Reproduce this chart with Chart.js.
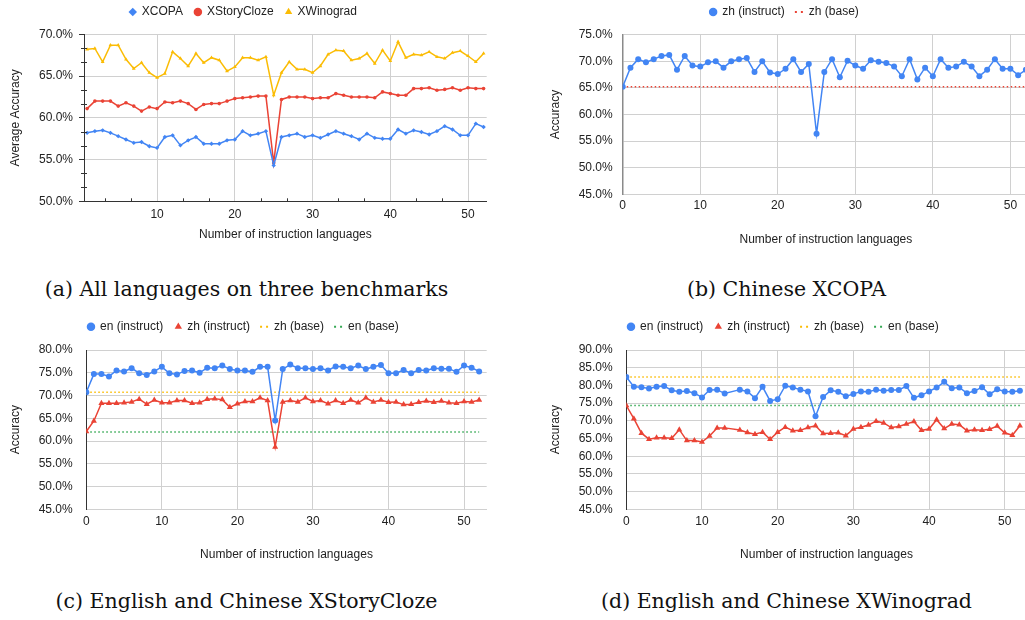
<!DOCTYPE html>
<html>
<head>
<meta charset="utf-8">
<script src="https://cdn.jsdelivr.net/npm/chart.js@4.4.1/dist/chart.umd.min.js"></script>
<style>
  html, body { margin: 0; padding: 0; background: #fff; }
  body { width: 1025px; height: 620px; position: relative; overflow: hidden; }
  canvas { position: absolute; }
  .cap {
    position: absolute; width: 493px; text-align: center;
    font-family: "DejaVu Serif", serif; font-size: 20.5px; line-height: 24px; color: #111;
  }
</style>
</head>
<body>
<canvas id="chartA" width="493" height="255" style="left:0;top:0"></canvas>
<canvas id="chartB" width="493" height="255" style="left:540px;top:0"></canvas>
<canvas id="chartC" width="493" height="255" style="left:0;top:310px"></canvas>
<canvas id="chartD" width="493" height="255" style="left:540px;top:310px"></canvas>
<div class="cap" style="left:0;top:277px">(a) All languages on three benchmarks</div>
<div class="cap" style="left:540px;top:277px">(b) Chinese XCOPA</div>
<div class="cap" style="left:0;top:589px">(c) English and Chinese XStoryCloze</div>
<div class="cap" style="left:540px;top:589px">(d) English and Chinese XWinograd</div>

<script>
// (a) x = 1..52 instruction languages
const langsA = Array.from({ length: 52 }, (_, i) => i + 1);
const xcopa = [58.2,58.4,58.5,58.2,57.8,57.4,57.0,57.1,56.6,56.4, 57.7,57.9,56.7,57.3,57.7,56.9,56.9,56.9,57.3,57.4,
  58.4,57.9,58.1,58.4,54.3,57.7,57.9,58.1,57.7,57.9, 57.6,58.0,58.4,58.1,57.8,57.4,58.1,57.6,57.5,57.5,
  58.6,58.1,58.5,58.3,58.0,58.4,59.0,58.6,57.9,57.9, 59.3,58.9];
const xstorycloze = [61.1,62.0,62.0,62.0,61.4,61.8,61.4,60.8,61.3,61.1, 61.9,61.8,62.0,61.7,61.0,61.6,61.7,61.7,62.0,62.3,
  62.4,62.5,62.6,62.6,54.6,62.2,62.5,62.5,62.5,62.3, 62.4,62.4,62.9,62.7,62.5,62.5,62.5,62.4,63.1,62.9,
  62.7,62.7,63.5,63.5,63.6,63.3,63.4,63.6,63.3,63.6, 63.5,63.5];
const xwinograd = [68.2,68.3,66.7,68.7,68.7,67.0,65.9,66.6,65.4,64.8, 65.3,67.9,67.1,66.2,67.7,66.6,67.2,66.9,65.6,66.1,
  67.2,67.2,66.9,67.3,62.7,65.4,66.7,65.8,65.8,65.4, 66.2,67.6,68.1,68.0,66.9,67.1,67.7,66.5,68.1,66.8,
  69.1,67.2,67.6,67.5,67.9,67.3,67.1,67.8,68.0,67.4, 66.7,67.7];

// (b)-(d) x = 0..52
const langs = Array.from({ length: 53 }, (_, i) => i);
const bZhInstruct = [65.2,68.8,70.4,69.8,70.4,71.0,71.2,68.4,71.0,69.2, 69.0,69.8,70.0,68.8,70.0,70.4,70.6,68.0,70.0,67.9,
  67.6,68.6,70.4,68.0,69.5,56.4,68.0,70.4,67.0,70.1, 69.2,68.6,70.2,69.9,69.7,69.0,67.2,70.4,66.6,68.8,
  67.2,70.4,68.8,69.0,69.9,69.0,67.2,68.4,70.4,68.6, 68.6,67.4,68.4];
const bZhBase = 65.2;

const cEnInstruct = [70.7,74.7,74.7,74.2,75.5,75.3,76.0,74.9,74.5,75.3, 76.3,74.9,74.6,75.4,75.5,75.0,76.1,76.0,76.6,75.8,
  75.5,75.5,75.2,76.3,76.3,64.5,75.8,76.8,76.0,76.0, 75.8,76.0,75.5,76.4,76.3,76.0,76.6,75.8,76.3,76.7,
  74.9,74.9,75.6,74.9,75.6,75.5,76.0,75.9,75.9,75.2, 76.6,76.1,75.3];
const cZhInstruct = [62.1,64.4,68.3,68.3,68.3,68.4,68.6,69.2,68.1,69.0, 68.4,68.4,68.9,68.9,68.3,68.4,69.2,69.3,69.1,67.4,
  68.2,68.7,68.7,69.5,68.9,58.7,68.6,68.9,68.6,69.5, 68.7,68.9,68.2,68.9,68.3,69.0,68.4,69.5,68.6,69.0,
  68.5,68.6,68.0,68.1,68.5,68.8,68.5,68.8,68.4,68.3, 68.7,68.6,69.0];
const cZhBase = 70.7;
const cEnBase = 62.0;

const dEnInstruct = [82.4,79.6,79.5,79.1,79.6,79.8,78.6,78.2,78.4,77.8, 76.6,78.7,78.8,77.7,null,78.8,78.3,76.4,79.6,75.6,
  76.1,79.9,79.4,78.8,78.3,71.3,76.7,78.6,78.2,76.9, 77.6,78.3,78.2,78.8,78.5,78.7,78.7,79.8,76.5,77.2,
  78.3,79.4,81.0,79.2,79.4,77.8,78.4,79.5,77.5,78.9, 78.3,78.2,78.5];
const dZhInstruct = [74.3,70.6,66.5,64.8,65.2,65.2,65.1,67.5,64.4,64.4, 64.0,65.7,68.0,68.0,null,67.4,66.7,66.2,66.8,64.8,
  66.8,68.2,67.2,67.3,68.1,68.6,66.4,66.5,66.6,65.8, 67.7,68.2,68.8,69.9,69.4,68.1,68.4,69.1,69.8,67.3,
  67.7,70.3,67.8,69.1,68.9,67.2,67.5,67.3,67.6,68.5, 66.6,65.9,68.6];
const dZhBase = 82.4;
const dEnBase = 74.3;

const xTicksA = [10, 20, 30, 40, 50];
const xTicks = [0, 10, 20, 30, 40, 50];

const BLUE = "#4285f4", RED = "#ea4335", YELLOW = "#fbbc04", GREEN = "#34a853";

Chart.defaults.font.family = "'Liberation Sans', Arial, sans-serif";
Chart.defaults.font.size = 12;
Chart.defaults.color = "#222";
Chart.defaults.animation = false;

function pts(xs, ys) {
  return xs.map((x, i) => ({ x, y: ys[i] }));
}

// two-dot marker for the dotted baseline legend entries
function dotsMarker(color) {
  const c = document.createElement("canvas");
  c.width = 12; c.height = 4;
  const g = c.getContext("2d");
  g.fillStyle = color;
  g.fillRect(1, 1, 2, 2);
  g.fillRect(7, 1, 2, 2);
  return c;
}

// extra space between legend and plot
function legendGap(gap) {
  return {
    id: "legendGap",
    beforeInit(chart) {
      const fit = chart.legend.fit;
      chart.legend.fit = function () {
        fit.bind(this)();
        this.height += gap;
      };
    }
  };
}

// small minor ticks on chart (a) axes
const minorTicks = {
  id: "minorTicks",
  afterDraw(chart) {
    const { ctx, chartArea, scales: { x, y } } = chart;
    ctx.save();
    ctx.strokeStyle = "#333";
    ctx.lineWidth = 1;
    ctx.beginPath();
    for (let k = 1; k * 5 / 3 < 20; k++) {
      if (k % 3 === 0) continue;
      const py = Math.round(y.getPixelForValue(50 + k * 5 / 3)) + 0.5;
      ctx.moveTo(chartArea.left - 3, py);
      ctx.lineTo(chartArea.left + 3, py);
    }
    for (let k = 1; k * 10 / 3 < 52.4; k++) {
      if (k % 3 === 0) continue;
      const px = Math.round(x.getPixelForValue(k * 10 / 3)) + 0.5;
      ctx.moveTo(px, chartArea.bottom);
      ctx.lineTo(px, chartArea.bottom - 3);
    }
    ctx.stroke();
    ctx.restore();
  }
};

function series(label, xs, ys, color, style, radius, width) {
  return {
    label, data: pts(xs, ys),
    borderColor: color, backgroundColor: color,
    borderWidth: width || 1.5,
    pointStyle: style, pointRadius: radius, pointHoverRadius: radius,
    pointBorderWidth: 0,
    tension: 0, spanGaps: true
  };
}

function baseline(label, value, color) {
  return {
    label, data: [{ x: 0, y: value }, { x: 52, y: value }],
    borderColor: color, backgroundColor: color,
    borderWidth: 1.5, borderDash: [1.5, 2.5],
    pointRadius: 0, pointStyle: dotsMarker(color)
  };
}

function pctTick(v) { return v.toFixed(1) + "%"; }

function makeOptions(cfg) {
  return {
    responsive: false,
    layout: { padding: { top: cfg.padTop, right: cfg.padRight, left: 0, bottom: 0 } },
    plugins: {
      legend: {
        position: "top",
        labels: { usePointStyle: true, boxWidth: 6, boxHeight: 6, padding: 12, color: "#222" }
      },
      tooltip: { enabled: false }
    },
    scales: {
      x: {
        type: "linear", min: cfg.xMin, max: cfg.xMax,
        afterBuildTicks: s => { s.ticks = cfg.xTicks.map(value => ({ value })); },
        afterFit: s => { s.height = cfg.xHeight; },
        grid: { color: "#d0d0d0", drawTicks: false },
        border: { color: cfg.xBorder, width: 1 },
        ticks: { padding: cfg.xTickPad, color: "#222" },
        title: {
          display: true, text: "Number of instruction languages", color: "#222",
          padding: { top: 0, bottom: cfg.xTitlePad }
        }
      },
      y: {
        min: cfg.yMin, max: cfg.yMax,
        ticks: { stepSize: 5, callback: pctTick, padding: cfg.yTickPad, color: "#222" },
        afterFit: s => { s.width = cfg.yWidth; },
        grid: { color: "#d0d0d0", drawTicks: cfg.yDrawTicks, tickLength: 5, tickColor: "#333" },
        border: { color: cfg.yBorder, width: cfg.yBorderWidth },
        title: { display: true, text: cfg.yTitle, color: "#222", padding: { top: 8, bottom: 0 } }
      }
    }
  };
}

new Chart(document.getElementById("chartA"), {
  type: "line",
  data: {
    datasets: [
      series("XCOPA", langsA, xcopa, BLUE, "rectRot", 2.2),
      series("XStoryCloze", langsA, xstorycloze, RED, "circle", 1.8),
      series("XWinograd", langsA, xwinograd, YELLOW, "triangle", 2.2)
    ]
  },
  options: makeOptions({
    padTop: -6, padRight: 6.3, xMin: 0.6, xMax: 52.4, xTicks: xTicksA,
    xHeight: 53.7, xBorder: "#333", xTickPad: 6.5, xTitlePad: 12.8,
    yMin: 50, yMax: 70, yWidth: 84, yTickPad: 6, yDrawTicks: true,
    yBorder: "#333", yBorderWidth: 1, yTitle: "Average Accuracy"
  }),
  plugins: [legendGap(6.3), minorTicks]
});

new Chart(document.getElementById("chartB"), {
  type: "line",
  data: {
    datasets: [
      series("zh (instruct)", langs, bZhInstruct, BLUE, "circle", 3),
      baseline("zh (base)", bZhBase, RED)
    ]
  },
  options: makeOptions({
    padTop: -6, padRight: 4, xMin: 0, xMax: 52.4, xTicks,
    xHeight: 60.7, xBorder: "#d0d0d0", xTickPad: 4, xTitlePad: 7.8,
    yMin: 45, yMax: 75, yWidth: 82.7, yTickPad: 10, yDrawTicks: false,
    yBorder: "#8a8a8a", yBorderWidth: 1.5, yTitle: "Accuracy"
  }),
  plugins: [legendGap(6.7)]
});

new Chart(document.getElementById("chartC"), {
  type: "line",
  data: {
    datasets: [
      series("en (instruct)", langs, cEnInstruct, BLUE, "circle", 3),
      series("zh (instruct)", langs, cZhInstruct, RED, "triangle", 3.5),
      baseline("zh (base)", cZhBase, YELLOW),
      baseline("en (base)", cEnBase, GREEN)
    ]
  },
  options: makeOptions({
    padTop: -1.3, padRight: 6.3, xMin: 0, xMax: 53, xTicks,
    xHeight: 55.7, xBorder: "#d0d0d0", xTickPad: 5, xTitlePad: 2.8,
    yMin: 45, yMax: 80, yWidth: 86.3, yTickPad: 13.6, yDrawTicks: false,
    yBorder: "#333", yBorderWidth: 1, yTitle: "Accuracy"
  }),
  plugins: [legendGap(7.3)]
});

new Chart(document.getElementById("chartD"), {
  type: "line",
  data: {
    datasets: [
      series("en (instruct)", langs, dEnInstruct, BLUE, "circle", 3),
      series("zh (instruct)", langs, dZhInstruct, RED, "triangle", 3.5),
      baseline("zh (base)", dZhBase, YELLOW),
      baseline("en (base)", dEnBase, GREEN)
    ]
  },
  options: makeOptions({
    padTop: -1.3, padRight: 6.3, xMin: 0, xMax: 52.9, xTicks,
    xHeight: 55.7, xBorder: "#d0d0d0", xTickPad: 5, xTitlePad: 2.8,
    yMin: 45, yMax: 90, yWidth: 86.3, yTickPad: 13.6, yDrawTicks: false,
    yBorder: "#333", yBorderWidth: 1, yTitle: "Accuracy"
  }),
  plugins: [legendGap(7.3)]
});
</script>
</body>
</html>
